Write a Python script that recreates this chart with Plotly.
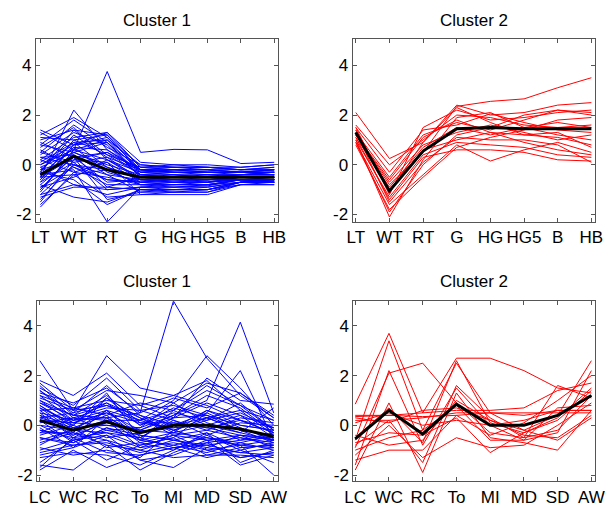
import plotly.graph_objects as go

# Variable names for the two groups of measures
vars_top = ["LT", "WT", "RT", "G", "HG", "HG5", "B", "HB"]
vars_bot = ["LC", "WC", "RC", "To", "MI", "MD", "SD", "AW"]
ytick_vals = [-2, 0, 2, 4]
ytick_text = ["-2", "0", "2", "4"]

# Standardised profiles, cluster 1, first group of measures
c1_top = [
    [0.0, 0.6, 3.75, 0.5, 0.62, 0.6, 0.05, 0.1],
    [-0.4, -0.2, -2.3, -0.9, -0.9, -0.85, -0.6, -0.6],
    [-0.5, 2.2, 0.6, -0.2, -0.3, -0.3, -0.3, -0.2],
    [1.4, 0.8, 1.3, 0.1, 0.0, -0.1, -0.2, -0.1],
    [1.2, 1.9, 1.1, -0.2, -0.3, -0.3, -0.4, -0.4],
    [-1.7, -0.3, -0.5, -0.8, -0.8, -0.8, -0.6, -0.7],
    [-1.5, 0.2, 0.1, -1.2, -1.1, -1.1, -0.8, -0.7],
    [1.0, 1.4, 1.2, -0.3, -0.2, -0.2, -0.3, -0.3],
    [0.8, 0.5, 0.9, -0.4, -0.5, -0.4, -0.5, -0.5],
    [-0.8, -1.3, -1.5, -1.0, -1.0, -1.0, -0.7, -0.7],
    [-0.3, 1.2, 0.3, -0.6, -0.6, -0.6, -0.5, -0.5],
    [0.3, 0.0, -0.6, -0.7, -0.7, -0.6, -0.6, -0.6],
    [-1.0, 0.4, -0.9, -0.5, -0.5, -0.6, -0.5, -0.5],
    [0.5, 1.6, 0.7, 0.0, -0.1, -0.1, -0.1, 0.0],
    [-0.2, 0.9, 1.0, -0.3, -0.4, -0.4, -0.4, -0.4],
    [-1.2, -0.8, -1.2, -0.9, -1.0, -0.9, -0.7, -0.6],
    [0.9, 0.3, 0.5, -0.2, -0.2, -0.2, -0.3, -0.3],
    [-0.6, 0.7, -0.3, -0.7, -0.8, -0.7, -0.6, -0.6],
    [-0.9, -0.5, 0.2, -0.5, -0.6, -0.6, -0.5, -0.6],
    [0.2, 1.1, 1.3, -0.1, -0.2, -0.2, -0.2, -0.2],
    [-1.4, 0.0, -0.4, -1.1, -1.1, -1.0, -0.8, -0.8],
    [0.6, -0.1, -0.8, -0.8, -0.7, -0.7, -0.6, -0.5],
    [-0.1, 0.5, 0.0, -0.4, -0.4, -0.5, -0.4, -0.4],
    [1.1, 1.0, 0.4, -0.1, 0.0, 0.0, -0.1, 0.0],
    [-0.7, 0.1, -1.0, -0.9, -0.8, -0.8, -0.6, -0.7],
    [-0.3, -0.6, -1.6, -1.0, -1.1, -1.1, -0.7, -0.7],
    [0.4, 1.3, 0.8, -0.5, -0.4, -0.5, -0.4, -0.3],
    [-1.1, 0.6, 0.2, -0.6, -0.7, -0.7, -0.5, -0.5],
    [-0.5, -0.4, -0.2, -0.8, -0.9, -0.9, -0.7, -0.7],
    [0.0, 0.8, 1.1, -0.2, -0.3, -0.3, -0.3, -0.4],
    [-0.8, 0.3, -0.7, -0.6, -0.5, -0.5, -0.5, -0.5],
    [0.7, 1.5, 0.2, -0.3, -0.3, -0.4, -0.4, -0.3],
    [-1.3, -0.9, -0.9, -1.0, -1.0, -1.0, -0.7, -0.7],
    [-0.2, 0.2, 0.5, -0.4, -0.5, -0.5, -0.5, -0.5],
    [0.1, 0.9, -0.1, -0.5, -0.6, -0.6, -0.6, -0.6],
    [-0.6, 1.0, 1.2, -0.1, -0.1, -0.2, -0.3, -0.2],
    [-1.6, -0.4, -1.3, -1.2, -1.2, -1.2, -0.8, -0.8],
    [0.3, 0.4, -0.4, -0.6, -0.7, -0.7, -0.6, -0.6],
    [-0.4, 0.7, 0.6, -0.3, -0.2, -0.3, -0.3, -0.3],
    [0.8, 1.8, 0.9, -0.2, -0.2, -0.3, -0.3, -0.2],
    [-0.9, -0.1, -0.6, -0.7, -0.6, -0.6, -0.6, -0.6],
    [-0.1, -0.8, -1.0, -0.9, -0.9, -0.8, -0.7, -0.6],
    [0.5, 0.1, 0.3, -0.2, -0.1, -0.1, -0.2, -0.2],
    [-1.0, 0.5, -0.1, -0.6, -0.6, -0.7, -0.5, -0.5],
    [1.3, 0.6, 1.0, 0.0, -0.1, -0.1, -0.2, -0.1],
    [-0.5, 0.3, -1.4, -1.1, -1.0, -1.0, -0.7, -0.7],
    [-0.3, 1.4, 0.4, -0.4, -0.3, -0.3, -0.3, -0.3],
    [0.2, -0.3, 0.1, -0.7, -0.6, -0.6, -0.5, -0.5],
    [-0.7, 0.8, 0.9, -0.5, -0.5, -0.5, -0.4, -0.4],
    [-1.2, 0.0, -0.2, -0.8, -0.8, -0.8, -0.6, -0.6],
]
c1_top_mean = [-0.4, 0.35, -0.2, -0.5, -0.5, -0.5, -0.5, -0.5]

# Cluster 2, first group of measures
c2_top = [
    [1.2, -0.8, 0.5, 2.35, 2.55, 2.65, 3.1, 3.5],
    [2.1, 0.25, 0.9, 2.4, 2.0, 2.1, 2.4, 2.5],
    [1.5, -1.2, 1.5, 2.2, 1.8, 1.9, 2.1, 2.2],
    [1.0, -2.1, 0.2, 1.9, 2.1, 1.5, 1.2, 1.0],
    [1.3, -0.5, 1.2, 1.7, 1.4, 1.8, 2.2, 2.0],
    [0.9, -1.6, -0.4, 0.8, 0.15, 0.6, 0.9, 0.5],
    [1.4, -1.0, 0.6, 1.0, 1.3, 1.2, 1.1, 0.8],
    [1.1, -1.4, 0.3, 0.6, 0.6, 0.5, 0.2, 0.15],
    [1.6, 0.0, 1.0, 2.0, 1.9, 1.6, 1.5, 1.6],
    [0.8, -1.8, -0.5, 0.7, 1.1, 1.4, 1.8, 1.9],
    [1.2, -0.7, 0.8, 1.3, 1.6, 1.3, 1.0, 1.2],
    [1.0, -1.3, 0.4, 0.9, 0.8, 0.7, 0.4, 0.3],
    [1.5, -0.3, 1.4, 1.6, 2.05, 1.7, 1.4, 1.3],
    [1.3, -1.5, 0.1, 1.1, 1.0, 1.0, 0.8, 0.1],
    [1.1, -0.9, 0.7, 1.5, 1.2, 1.5, 1.7, 1.5],
    [1.4, -1.1, 0.9, 2.3, 1.7, 1.2, 1.3, 0.7],
    [0.9, -1.9, 0.0, 1.2, 1.5, 2.0, 2.2, 2.1],
    [1.2, -0.6, 1.1, 1.8, 1.3, 0.9, 0.6, 0.4],
]
c2_top_mean = [1.3, -1.05, 0.55, 1.45, 1.5, 1.45, 1.45, 1.45]

# Cluster 1, second group of measures
c1_bot = [
    [0.5, 0.2, 0.3, 0.5, 5.0, 2.7, 1.2, 0.3],
    [0.3, -0.1, 0.0, -0.2, 0.4, 1.0, 4.15, 0.5],
    [1.0, 0.4, 0.8, 0.2, 1.0, 2.8, 1.5, 0.0],
    [-0.2, -0.5, -0.3, -0.8, -0.5, 0.5, 2.2, -0.6],
    [2.6, 0.6, 2.8, 1.5, 1.2, 1.8, 0.6, -0.4],
    [1.8, 1.2, 2.1, 0.8, 0.3, 1.9, 1.0, 0.85],
    [-1.8, -1.0, -1.7, -1.2, -0.9, -1.3, -1.0, -1.5],
    [1.4, 0.5, 1.6, 0.4, -0.3, 0.6, 0.2, -0.3],
    [-1.6, -1.8, -0.8, -1.8, -1.1, -0.6, -0.8, -2.0],
    [0.8, 0.0, 1.3, -0.5, 0.2, -0.2, -0.5, -0.8],
    [-0.5, -0.8, -0.6, -1.4, -1.7, -0.9, -1.1, -0.9],
    [1.2, 0.7, 0.4, 0.9, 0.6, 1.4, 0.8, 0.2],
    [0.0, -0.2, 0.2, -0.3, 0.1, -0.1, -0.4, -0.5],
    [0.6, -0.3, 1.1, 0.3, -0.2, 0.3, -0.2, -0.7],
    [-1.0, -0.6, -0.4, -0.9, -0.4, -1.0, -1.3, -1.1],
    [1.5, 0.8, 1.9, 0.6, 0.8, 0.4, 0.0, -0.2],
    [-0.3, 0.3, -0.2, -0.1, 0.9, 1.7, 1.3, 0.4],
    [0.4, -0.4, 0.6, -0.6, -0.8, -0.5, -0.7, -0.4],
    [-1.3, -1.1, -1.2, -1.6, -1.0, -0.3, -1.5, -1.0],
    [0.9, 0.2, 0.9, 0.0, 0.5, 0.2, 0.5, -0.1],
    [0.2, -0.7, -0.1, -0.4, -0.6, -0.8, -0.6, -0.3],
    [1.1, 0.6, 1.4, 1.2, 0.9, 0.1, -0.3, 0.7],
    [-0.7, -0.3, -0.8, -1.0, -1.3, -1.2, -0.9, -0.8],
    [0.7, 0.1, 0.5, -0.2, 0.3, 0.9, 0.4, -0.5],
    [-0.1, -0.9, 0.3, -0.7, -0.4, -0.6, -1.6, -1.2],
    [1.3, 0.9, 1.5, 0.5, 1.1, 0.7, 1.3, 0.3],
    [-0.4, 0.0, -0.5, -0.3, 0.0, 0.5, -0.1, -0.6],
    [0.5, -0.5, 0.2, -0.9, -0.7, -1.0, -0.8, -0.9],
    [-0.9, -1.2, -1.0, -1.3, -0.2, 0.2, 0.9, -0.2],
    [1.6, 0.4, 1.2, 0.1, -0.1, 0.0, -0.3, -0.6],
    [0.1, 0.3, 0.7, 0.6, 0.2, -0.4, 0.1, 0.0],
    [-0.6, -0.2, -0.3, -0.5, -0.9, -0.7, -0.5, -0.7],
    [1.0, 0.1, 0.0, -0.1, 0.4, 1.2, 0.7, -0.3],
    [-1.5, -0.6, -1.4, -0.8, -0.5, -1.2, -1.2, -1.3],
    [0.3, 0.5, 0.9, 0.3, -0.4, -0.2, 0.3, 0.1],
    [0.8, -0.1, 0.4, -0.6, 0.6, 1.6, 0.8, -0.2],
    [-0.2, -0.4, 0.1, -0.2, -0.3, 0.0, -0.6, -0.5],
    [1.2, 0.2, 0.6, -0.4, -0.6, -0.3, -0.9, -0.8],
    [-1.1, -0.8, -0.7, -1.1, -0.8, -1.1, -0.7, -1.0],
    [0.6, 0.7, 1.0, 0.8, 1.2, 0.8, 0.2, -0.1],
    [0.0, -0.6, -0.2, -0.5, 0.3, 0.4, -0.2, -0.4],
    [1.4, 0.3, 0.2, 0.2, -0.2, -0.6, -0.4, -0.6],
    [-0.8, -0.1, -0.9, -0.7, -1.0, -0.4, -1.0, -0.7],
    [0.4, 0.0, 1.1, 0.0, 0.7, 0.3, 0.6, 0.2],
    [-0.3, -0.3, -0.6, -1.0, -0.6, -0.9, -0.4, -0.9],
    [0.9, 0.4, 0.3, -0.3, -0.1, 0.6, 0.0, -0.2],
    [-1.2, -0.9, -0.4, -1.4, -1.2, -0.7, -1.3, -1.1],
    [0.2, 0.1, 0.5, 0.1, 0.1, -0.1, 0.2, -0.3],
    [1.7, 0.6, 0.8, 0.4, 0.0, 0.3, -0.2, -0.4],
    [-0.5, -0.7, -0.1, -0.6, -0.3, -0.5, -0.8, -0.6],
    [0.7, -0.2, 0.6, 0.2, 0.6, 0.0, 0.4, -0.1],
    [-1.7, -0.5, -1.1, -1.2, -0.9, -0.8, -1.1, -1.2],
]
c1_bot_mean = [0.2, -0.2, 0.15, -0.3, 0.0, 0.0, -0.15, -0.45]

# Cluster 2, second group of measures
c2_bot = [
    [0.85, 3.7, 0.5, 2.7, 2.7, 2.2, 1.5, 1.3],
    [-0.6, 3.4, -0.2, 2.5, 0.5, -0.2, 0.4, 2.6],
    [-1.6, 2.2, -0.8, 1.5, 0.0, -0.6, -0.3, 2.2],
    [-0.9, 2.1, 2.5, 0.9, -0.3, -0.5, 1.6, 1.1],
    [0.4, 0.4, 0.5, 0.6, 0.6, 0.7, 1.4, 1.7],
    [0.2, 0.2, 0.3, 0.5, 0.5, 0.5, 0.5, 0.5],
    [-1.8, 0.9, -1.9, 1.3, -0.5, -0.7, -1.0, 0.6],
    [-0.7, -0.3, -0.4, 0.3, -1.1, -0.3, 0.3, 1.5],
    [0.3, 0.1, 0.6, 0.7, 0.2, -0.4, -0.5, 0.4],
    [-1.2, 0.0, -1.3, -0.5, -0.9, -0.8, 0.0, 0.9],
    [-0.4, -0.8, -0.6, 1.0, 0.2, -0.2, -0.6, 0.3],
    [-1.4, -1.0, -1.0, 0.4, -0.4, 0.1, 1.0, 2.0],
    [0.1, 0.5, 0.0, 0.2, 0.0, 0.2, 0.6, 0.6],
    [-0.8, 0.2, -1.5, 1.6, 0.3, -0.5, -0.2, 1.2],
    [-1.0, -0.5, -0.2, 0.8, -0.6, -0.6, 0.7, 0.8],
    [0.35, 0.4, 0.35, 0.4, 0.5, 0.4, 0.6, 0.6],
    [-0.5, 0.7, -0.7, 2.6, 0.1, -0.3, 0.2, 1.4],
]
c2_bot_mean = [-0.55, 0.6, -0.35, 0.85, 0.0, 0.0, 0.4, 1.2]

FONT = "Liberation Sans, Arial, sans-serif"
FONT_SIZE = 17
AXIS_COLOR = "#555555"

panels = [
    # (profiles, mean, labels, colour, axis suffix, x domain, y domain, x range, y range, title)
    (c1_top, c1_top_mean, vars_top, "#0000FF", "", [0.0452, 0.4514], [0.5604, 0.9219], [0.866, 8.10], [-2.30, 5.04], "Cluster 1"),
    (c2_top, c2_top_mean, vars_top, "#FF0000", "2", [0.5775, 0.9853], [0.5604, 0.9219], [0.905, 8.115], [-2.30, 5.04], "Cluster 2"),
    (c1_bot, c1_bot_mean, vars_bot, "#0000FF", "3", [0.0473, 0.4514], [0.0466, 0.4049], [0.92, 8.116], [-2.26, 5.02], "Cluster 1"),
    (c2_bot, c2_bot_mean, vars_bot, "#FF0000", "4", [0.5786, 0.9853], [0.0466, 0.4049], [0.942, 8.115], [-2.26, 5.02], "Cluster 2"),
]

fig = go.Figure()
layout = dict(
    width=613, height=508,
    margin=dict(l=0, r=0, t=0, b=0),
    paper_bgcolor="white", plot_bgcolor="white",
    showlegend=False,
    font=dict(family=FONT, size=FONT_SIZE, color="black"),
    annotations=[],
)

for profiles, mean, labels, colour, sfx, xd, yd, xr, yr, title in panels:
    xs, ys = [], []
    positions = list(range(1, len(labels) + 1))
    for row in profiles:
        xs += positions + [None]
        ys += row + [None]
    fig.add_trace(go.Scatter(
        x=xs, y=ys, mode="lines", xaxis="x" + sfx, yaxis="y" + sfx,
        line=dict(color=colour, width=1), hoverinfo="skip",
    ))
    fig.add_trace(go.Scatter(
        x=positions, y=mean, mode="lines", xaxis="x" + sfx, yaxis="y" + sfx,
        line=dict(color="black", width=3), hoverinfo="skip",
    ))
    common = dict(
        showline=True, linecolor=AXIS_COLOR, linewidth=1, mirror="ticks",
        ticks="inside", ticklen=4, tickcolor=AXIS_COLOR, tickwidth=1,
        showgrid=False, zeroline=False, fixedrange=True,
        tickfont=dict(family=FONT, size=FONT_SIZE, color="black"),
    )
    layout["xaxis" + sfx] = dict(
        domain=xd, range=xr, anchor="y" + sfx,
        tickvals=positions, ticktext=labels, **common,
    )
    layout["yaxis" + sfx] = dict(
        domain=yd, range=yr, anchor="x" + sfx,
        tickvals=ytick_vals, ticktext=ytick_text, **common,
    )
    layout["annotations"].append(dict(
        text=title, xref="paper", yref="paper",
        x=(xd[0] + xd[1]) / 2, y=yd[1] + 0.038,
        xanchor="center", yanchor="middle", showarrow=False,
        font=dict(family=FONT, size=FONT_SIZE, color="black"),
    ))

fig.update_layout(**layout)
fig.write_html("out.html")
